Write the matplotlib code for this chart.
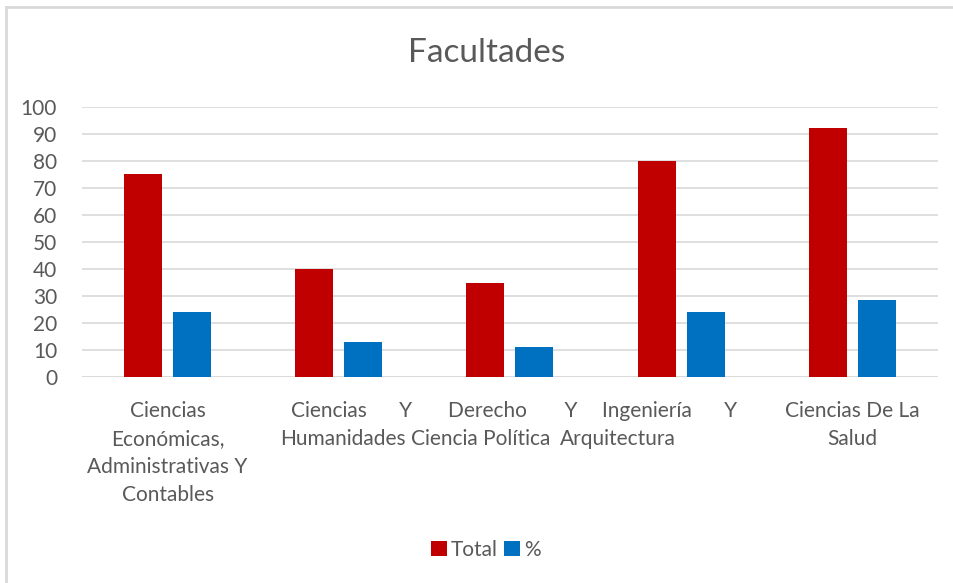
import matplotlib
matplotlib.use("Agg")
import matplotlib.pyplot as plt
from matplotlib.lines import Line2D
import numpy as np

plt.rcParams['font.family'] = ['Lato', 'DejaVu Sans']

categories = [
    "Ciencias\nEconómicas,\nAdministrativas Y\nContables",
    "  Ciencias      Y\nHumanidades",
    "       Derecho       Y\nCiencia Política",
    "        Ingeniería      Y\nArquitectura",
    "Ciencias De La\nSalud",
]
total = [75, 40, 35, 80, 92]
pct = [24, 13, 11, 24, 28.5]

# Excel's wrapped labels overflow their slots; anchor and offset (category units)
label_shift = [0.0, -0.342, -0.576, -0.705, 0.0]
label_ha = ["center", "left", "left", "left", "center"]

gray = "#595959"
red = "#C00000"
blue = "#0070C0"

fig = plt.figure(figsize=(9.54, 5.83), dpi=100)
ax = fig.add_axes([0.086, 0.353, 0.897, 0.464])

x = np.arange(len(categories))
w = 0.222
ax.bar(x - 0.143, total, width=w, color=red, label="Total", zorder=3)
ax.bar(x + 0.143, pct, width=w, color=blue, label="%", zorder=3)

ax.set_xlim(-0.5, len(categories) - 0.5)
ax.set_ylim(0, 100)
ax.set_yticks(range(0, 101, 10))
ax.yaxis.grid(True, color="#D9D9D9", linewidth=1.2, zorder=0)
ax.set_axisbelow(True)
for s in ax.spines.values():
    s.set_visible(False)
ax.axhline(0, color="#D9D9D9", linewidth=1.2, zorder=2)
ax.tick_params(axis="y", length=0, pad=18, labelsize=15, labelcolor=gray)
ax.set_xticks([])

# each wrapped line drawn on its own, 28 px apart; leading spaces -> indent
space_px = 5.2
for i, lab in enumerate(categories):
    for k, line in enumerate(lab.split("\n")):
        indent = len(line) - len(line.lstrip(" "))
        ax.annotate(line.lstrip(" "), xy=(i + label_shift[i], 0),
                    xycoords=("data", "axes fraction"),
                    xytext=(indent * space_px, -24 - 28 * k),
                    textcoords="offset pixels",
                    ha=label_ha[i], va="top", fontsize=15, color=gray)

fig.text(487 / 954, 1 - 53 / 583, "Facultades", ha="center", va="center",
         fontsize=24, color=gray)

fig.legend(loc="center", bbox_to_anchor=(486 / 954, 0.057), ncol=2,
           frameon=False, fontsize=15, handlelength=0.75, handleheight=0.75,
           handletextpad=0.2, columnspacing=0.3, labelcolor=gray)

# chart frame (left and top edges visible in the screenshot)
fig.add_artist(Line2D([0.0065, 0.0065], [0.0, 0.988], transform=fig.transFigure,
                      color="#D9D9D9", linewidth=2))
fig.add_artist(Line2D([0.0065, 1.0], [0.988, 0.988], transform=fig.transFigure,
                      color="#D9D9D9", linewidth=2))

fig.savefig("out.png", dpi=100)
